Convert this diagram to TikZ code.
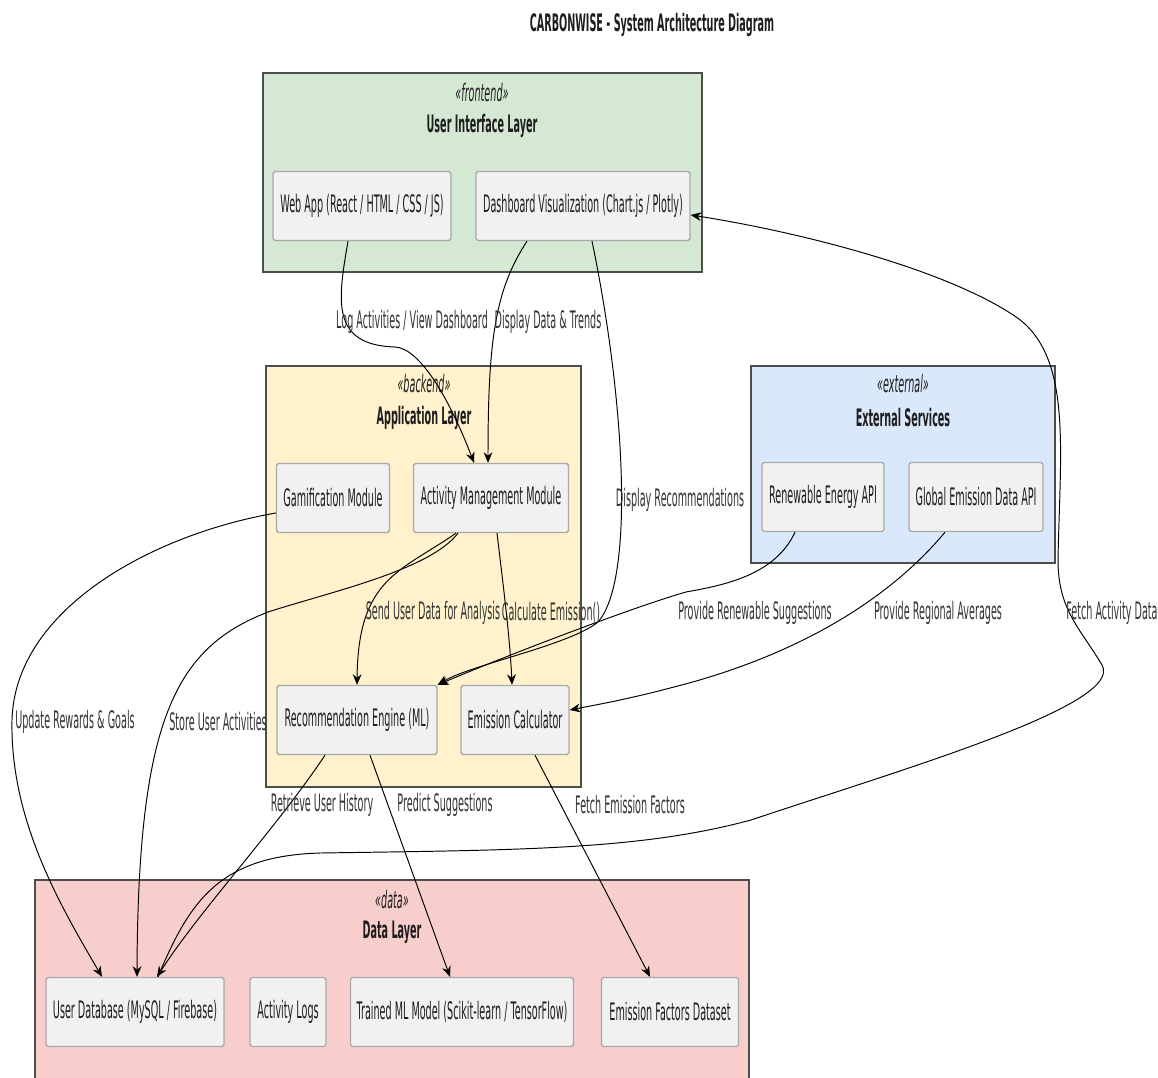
\documentclass[tikz,border=0pt]{standalone}
\usepackage{fontspec}
\setmainfont{DejaVu Sans}[FakeStretch=0.40]
\usetikzlibrary{arrows.meta}
\usetikzlibrary{calc}
\usetikzlibrary{fit}
\usetikzlibrary{positioning}
\definecolor{cwgreen}{HTML}{D5E8D4}
\definecolor{cwyellow}{HTML}{FFF2CC}
\definecolor{cwblue}{HTML}{DAE8FC}
\definecolor{cwpink}{HTML}{F8CECC}
\definecolor{cwcomp}{HTML}{F1F1F1}
\definecolor{cwcompline}{HTML}{A9A9A9}
\definecolor{cwlayerline}{HTML}{4D4D4D}
\definecolor{cwink}{HTML}{1E1E1E}
\definecolor{cwmuted}{HTML}{333333}
\newcommand{\cwsize}{\fontsize{13.7}{16}\selectfont}
\tikzset{
  cwlayer/.style={draw=cwlayerline, line width=1.2pt, inner sep=0pt},
  cwcomp/.style={
    draw=cwcompline, fill=cwcomp, line width=0.8pt, rounded corners=1pt,
    minimum height=1.38cm, inner xsep=2pt, font=\cwsize, text=cwink},
  cwstereo/.style={font=\cwsize\itshape, text=cwink},
  cwheading/.style={font=\cwsize\bfseries, text=cwink},
  cwarrow/.style={-{Stealth[length=6pt, width=5pt]}, draw=black,
    line width=0.55pt},
  cwtag/.style={font=\cwsize, text=cwmuted, inner sep=1pt},
}

\begin{document}
\begin{tikzpicture}[x=0.02cm, y=-0.02cm]

\fill[white] (0, 0) rectangle (1158, 1077);
\useasboundingbox (0, 0) rectangle (1158, 1077);

% Title.
\node[cwheading] (title) at (652, 25)
  {CARBONWISE - System Architecture Diagram};

% Layers.
\node[cwlayer, fill=cwgreen, fit={(263, 73) (702, 272)}] (uilayer) {};
\node[cwstereo] at (482, 93) {«frontend»};
\node[cwheading] at (482, 126) {User Interface Layer};

\node[cwlayer, fill=cwyellow, fit={(266, 366) (581, 787)}] (applayer) {};
\node[cwstereo] at (424, 384) {«backend»};
\node[cwheading] at (424, 418) {Application Layer};

\node[cwlayer, fill=cwblue, fit={(751, 366) (1055, 563)}] (extlayer) {};
\node[cwstereo] at (903, 384) {«external»};
\node[cwheading] at (903, 418) {External Services};

\node[cwlayer, fill=cwpink, fit={(35, 880) (749, 1095)}] (datalayer) {};
\node[cwstereo] at (392, 900) {«data»};
\node[cwheading] at (392, 932) {Data Layer};

% Components.
\node[cwcomp, minimum width=3.56cm] (webapp) at (362, 206)
  {Web App (React / HTML / CSS / JS)};
\node[cwcomp, minimum width=4.28cm] (dashboard) at (583, 206)
  {Dashboard Visualization (Chart.js / Plotly)};
\node[cwcomp, minimum width=2.26cm] (gamify) at (333, 498)
  {Gamification Module};
\node[cwcomp, minimum width=3.10cm] (activity) at (491, 498)
  {Activity Management Module};
\node[cwcomp, minimum width=3.20cm] (recengine) at (357, 720)
  {Recommendation Engine (ML)};
\node[cwcomp, minimum width=2.16cm] (emcalc) at (515, 720)
  {Emission Calculator};
\node[cwcomp, minimum width=2.44cm] (renewapi) at (823, 497)
  {Renewable Energy API};
\node[cwcomp, minimum width=2.68cm] (globalapi) at (976, 497)
  {Global Emission Data API};
\node[cwcomp, minimum width=3.56cm] (userdb) at (135, 1012)
  {User Database (MySQL / Firebase)};
\node[cwcomp, minimum width=1.52cm] (actlogs) at (288, 1012)
  {Activity Logs};
\node[cwcomp, minimum width=4.46cm] (mlmodel) at (462, 1012)
  {Trained ML Model (Scikit-learn / TensorFlow)};
\node[cwcomp, minimum width=2.74cm] (emfactors) at (670, 1012)
  {Emission Factors Dataset};

% Connectors.
\draw[cwarrow] ($(webapp.south)+(-14,0)$) .. controls (338, 300) and (330, 345)
  .. (395, 347) .. controls (420, 348) and (450, 400) .. ($(activity.north)+(-17,0)$);
\draw[cwarrow] ($(dashboard.south)+(-56,0)$) .. controls (495, 290) and (488, 340)
  .. ($(activity.north)+(-3,0)$);
\draw[cwarrow] ($(dashboard.south)+(9,0)$) .. controls (625, 400) and (635, 580)
  .. (598, 622) .. controls (570, 645) and (470, 665) .. (recengine.north east);
\draw[cwarrow] ($(activity.south)+(-35,0)$) .. controls (400, 572) and (358, 578)
  .. (recengine.north);
\draw[cwarrow] ($(activity.south)+(-33,0)$) .. controls (430, 570) and (330, 592)
  .. (268, 612) .. controls (175, 648) and (138, 720) .. ($(userdb.north)+(2,0)$);
\draw[cwarrow] ($(activity.south)+(6,0)$) .. controls (505, 600) and (510, 640)
  .. ($(emcalc.north)+(-3,0)$);
\draw[cwarrow] ($(renewapi.south)+(-28,0)$) .. controls (775, 575) and (725, 585)
  .. (686, 592) .. controls (640, 605) and (520, 650) .. (recengine.north east);
\draw[cwarrow] ($(globalapi.south)+(-31,0)$) .. controls (880, 610) and (780, 660)
  .. (674, 687) .. controls (625, 700) and (595, 705) .. ($(emcalc.east)+(0,-10)$);
\draw[cwarrow] ($(userdb.north)+(23,0)$) .. controls (190, 900) and (220, 856)
  .. (320, 853) .. controls (520, 850) and (640, 850) .. (751, 820)
  .. controls (900, 770) and (1125, 705) .. (1102, 665)
  .. controls (1080, 628) and (1058, 610) .. (1058, 560)
  .. controls (1060, 450) and (1072, 360) .. (1019, 319)
  .. controls (950, 270) and (800, 232) .. ($(dashboard.east)+(0,9)$);
\draw[cwarrow] ($(recengine.south)+(-32,0)$) .. controls (275, 830) and (200, 910)
  .. ($(userdb.north)+(22,0)$);
\draw[cwarrow] ($(recengine.south)+(13,0)$) -- ($(mlmodel.north)+(-12,0)$);
\draw[cwarrow] ($(emcalc.south)+(20,0)$) -- ($(emfactors.north)+(-20,0)$);
\draw[cwarrow] ($(gamify.west)+(0,15)$) .. controls (150, 535) and (15, 610)
  .. (12, 720) .. controls (10, 820) and (60, 905) .. ($(userdb.north)+(-33,0)$);

% Connector labels.
\node[cwtag] (taglog) at (412, 322) {Log Activities / View Dashboard};
\node[cwtag] (tagtrends) at (548, 322) {Display Data \& Trends};
\node[cwtag] (tagrecs) at (680, 500) {Display Recommendations};
\node[cwtag] (tagsend) at (433, 613) {Send User Data for Analysis};
\node[cwtag] (tagcalc) at (551, 613) {Calculate Emission()};
\node[cwtag] (tagrenew) at (755, 613) {Provide Renewable Suggestions};
\node[cwtag] (tagregion) at (938, 613) {Provide Regional Averages};
\node[cwtag] (tagfetchact) at (1112, 613) {Fetch Activity Data};
\node[cwtag] (tagrewards) at (75, 722) {Update Rewards \& Goals};
\node[cwtag] (tagstore) at (218, 722) {Store User Activities};
\node[cwtag] (taghistory) at (322, 805) {Retrieve User History};
\node[cwtag] (tagpredict) at (445, 805) {Predict Suggestions};
\node[cwtag] (tagfactors) at (630, 805) {Fetch Emission Factors};

\end{tikzpicture}
\end{document}
